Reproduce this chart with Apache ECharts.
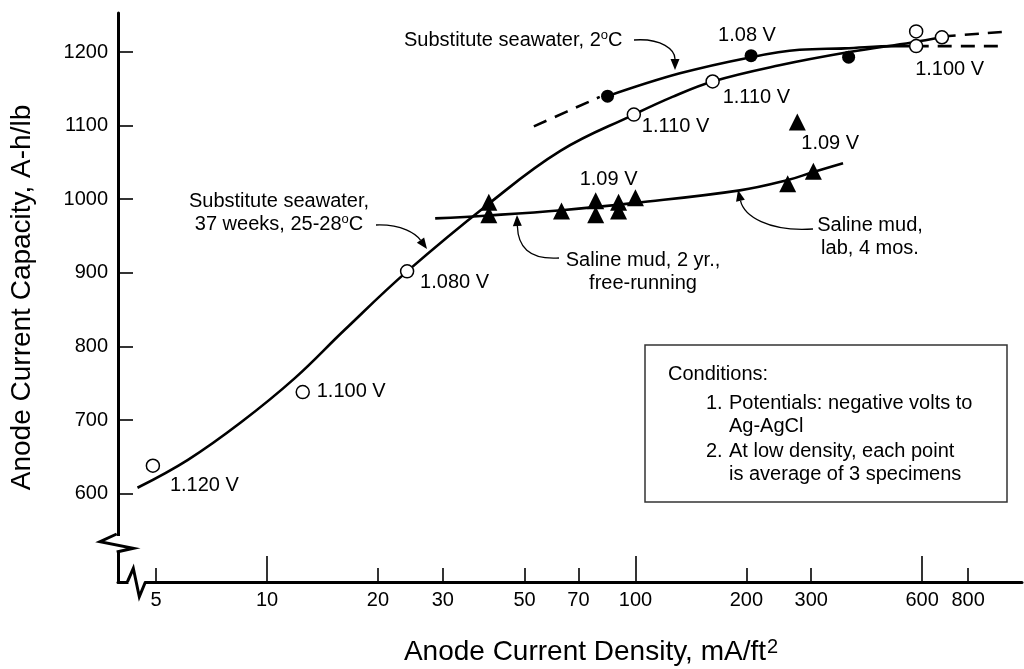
<!DOCTYPE html>
<html>
<head>
<meta charset="utf-8">
<title>Anode current capacity vs density</title>
<script src="https://cdn.jsdelivr.net/npm/echarts@6/dist/echarts.min.js"></script>
<style>
  html, body { margin: 0; padding: 0; background: #fff; }
  #chart { width: 1024px; height: 669px; }
</style>
</head>
<body>
<div id="chart"></div>
<script>
// measured points (x = mA/ft2, y = A-h/lb)
var openX = [4.9, 12.5, 24, 99, 162, 578, 578, 679];
var openY = [638, 738, 902, 1115, 1160, 1228, 1208, 1220];
var openVolts = ['1.120 V', '1.100 V', '1.080 V', '1.110 V', '1.110 V', '', '1.100 V', ''];

var filledX = [84, 206, 379];
var filledY = [1140, 1195, 1193];
var filledVolts = ['', '1.08 V', ''];

var triX = [40, 40, 63, 78, 78, 90, 90, 100, 259, 304, 275];
var triY = [996, 979, 984, 998, 979, 996, 984, 1002, 1021, 1038, 1105];
var triVolts = ['', '', '', '1.09 V', '', '', '', '', '', '', '1.09 V'];

// fitted curves
var curveAX = [4.45, 6.1, 8.5, 11.9, 16.2, 24, 40, 62.7, 99, 126, 162, 246, 381, 563, 679];
var curveAY = [608, 646, 697, 757, 822, 902, 994, 1066, 1115, 1139, 1160, 1182, 1200, 1213, 1220];
var curveAExtX = [679, 1030];
var curveAExtY = [1221, 1228];

var curveBLeadX = [53, 80];
var curveBLeadY = [1099, 1139];
var curveBX = [84, 132, 206, 279, 370, 507, 573];
var curveBY = [1140, 1171, 1193, 1203, 1205, 1208, 1208];
var curveBExtX = [573, 970];
var curveBExtY = [1208, 1208];

var mudX = [28.6, 40, 63, 100, 192, 259, 304, 366];
var mudY = [974, 978, 985, 995, 1012, 1026, 1037, 1049];

// axis ticks
var xLabelTicks = [5, 10, 20, 30, 50, 70, 100, 200, 300, 600, 800];
var xMajorTicks = [10, 100, 600];
var xMinorTicks = [5, 20, 30, 50, 70, 200, 300, 800];
var yTicks = [600, 700, 800, 900, 1000, 1100, 1200];

// where each voltage label sits relative to its point (px)
var openLabelPos = [[17, 20], [14, -1], [13, 11], [8, 12], [10, 16], null, [-1, 23], null];
var filledLabelPos = [null, [-33, -20], null];
var triLabelPos = [null, null, null, [-16, -21], null, null, null, null, null, null, [4, 22]];

var FONT = '"Liberation Sans", Arial, Helvetica, sans-serif';

function pairs(xs, ys) {
    var out = [];
    for (var i = 0; i < xs.length; i++) out.push([xs[i], ys[i]]);
    return out;
}

function withLabels(xs, ys, texts, pos) {
    return pairs(xs, ys).map(function (p, i) {
        if (!texts[i]) return p;
        return {
            value: p,
            label: {
                show: true,
                formatter: texts[i],
                position: 'inside',
                align: 'left',
                verticalAlign: 'middle',
                offset: pos[i],
                color: '#000',
                fontSize: 20,
                fontFamily: FONT
            }
        };
    });
}

function lineSeries(xs, ys, dashed) {
    return {
        type: 'line',
        data: pairs(xs, ys),
        smooth: 0.4,
        showSymbol: false,
        symbol: 'none',
        silent: true,
        lineStyle: { color: '#000', width: 2.6, type: dashed ? [14, 9] : 'solid' },
        z: 2
    };
}

// curved annotation arrow, ends in a filled head at p3
function arrow(p0, p1, p2, p3) {
    var dx = p3[0] - p2[0], dy = p3[1] - p2[1];
    var len = Math.sqrt(dx * dx + dy * dy);
    var ux = dx / len, uy = dy / len;
    var head = 11, half = 4.5;
    var bx = p3[0] - ux * head, by = p3[1] - uy * head;
    return [{
        type: 'bezierCurve',
        shape: { x1: p0[0], y1: p0[1], cpx1: p1[0], cpy1: p1[1], cpx2: p2[0], cpy2: p2[1], x2: bx, y2: by },
        style: { stroke: '#000', lineWidth: 1.3, fill: null }
    }, {
        type: 'polygon',
        shape: { points: [p3, [bx - uy * half, by + ux * half], [bx + uy * half, by - ux * half]] },
        style: { fill: '#000' }
    }];
}

var supRich = {
    t: { fontSize: 20, fontFamily: FONT, color: '#000' },
    s: { fontSize: 13, fontFamily: FONT, color: '#000', verticalAlign: 'top', padding: [0, 0, 8, 0] }
};

function note(x, y, text, align) {
    return {
        type: 'text',
        x: x, y: y,
        style: {
            text: text,
            rich: supRich,
            align: align || 'center',
            verticalAlign: 'middle',
            lineHeight: 23,
            font: '20px ' + FONT,
            fill: '#000'
        }
    };
}

var graphics = [];
// axis breaks
graphics.push({ type: 'rect', shape: { x: 108, y: 536, width: 18, height: 15 }, style: { fill: '#fff' }, z: 50 });
graphics.push({ type: 'polyline', shape: { points: [[116.7, 534], [100, 541.7], [133.3, 548.3], [116.7, 552]] },
    style: { stroke: '#000', lineWidth: 3, fill: null }, z: 51 });
graphics.push({ type: 'rect', shape: { x: 128.5, y: 577, width: 16, height: 9 }, style: { fill: '#fff' }, z: 50 });
graphics.push({ type: 'polyline', shape: { points: [[127.5, 581.7], [133.3, 568.3], [139.3, 596.7], [145.5, 581.7]] },
    style: { stroke: '#000', lineWidth: 3, fill: null }, z: 51 });

// curve annotations
graphics.push(note(404, 40, '{t|Substitute seawater, 2}{s|o}{t|C}', 'left'));
graphics = graphics.concat(arrow([634, 40], [662, 38], [675, 50], [675, 70]));
graphics.push(note(279, 213, '{t|Substitute seawater,}\n{t|37 weeks, 25-28}{s|o}{t|C}'));
graphics = graphics.concat(arrow([376, 225], [402, 224], [416, 234], [427, 249]));
graphics.push(note(643, 272, 'Saline mud, 2 yr.,\nfree-running'));
graphics = graphics.concat(arrow([559, 258], [528, 260], [518, 246], [517, 215]));
graphics.push(note(870, 237, 'Saline mud,\nlab, 4 mos.'));
graphics = graphics.concat(arrow([813, 229], [768, 232], [744, 216], [738, 190]));

// conditions box
graphics.push({ type: 'rect', shape: { x: 645, y: 345, width: 362, height: 157 },
    style: { fill: '#fff', stroke: '#333', lineWidth: 1.5 } });
graphics.push(note(668, 374, 'Conditions:', 'left'));
graphics.push(note(706, 403, '1.', 'left'));
graphics.push(note(729, 403, 'Potentials: negative volts to', 'left'));
graphics.push(note(729, 426, 'Ag-AgCl', 'left'));
graphics.push(note(706, 451, '2.', 'left'));
graphics.push(note(729, 451, 'At low density, each point', 'left'));
graphics.push(note(729, 474, 'is average of 3 specimens', 'left'));

// x-axis title with superscript
graphics.push({
    type: 'text', x: 591, y: 652,
    style: {
        text: '{n|Anode Current Density, mA/ft}{p|2}',
        rich: {
            n: { fontSize: 28, fontFamily: FONT, color: '#000' },
            p: { fontSize: 20, fontFamily: FONT, color: '#000', verticalAlign: 'top', padding: [0, 0, 10, 1] }
        },
        align: 'center', verticalAlign: 'middle', fill: '#000'
    }
});

var xBase = {
    type: 'log',
    logBase: 10,
    position: 'bottom',
    min: 3.94,
    max: 1120,
    splitLine: { show: false },
    axisPointer: { show: false }
};

var option = {
    animation: false,
    backgroundColor: '#fff',
    grid: { left: 117, top: 13, right: 2, bottom: 87 },
    xAxis: [
        Object.assign({}, xBase, {
            axisLine: { lineStyle: { color: '#000', width: 3 } },
            axisTick: { inside: true, length: 14, customValues: xMinorTicks, lineStyle: { color: '#000', width: 1.6 } },
            axisLabel: {
                customValues: xLabelTicks,
                margin: 8,
                color: '#000',
                fontSize: 20,
                fontFamily: FONT,
                formatter: function (v) { return String(Math.round(v)); }
            }
        }),
        Object.assign({}, xBase, {
            axisLine: { show: false },
            axisTick: { inside: true, length: 26, customValues: xMajorTicks, lineStyle: { color: '#000', width: 1.6 } },
            axisLabel: { show: false }
        })
    ],
    yAxis: {
        type: 'value',
        min: 480,
        max: 1253,
        splitLine: { show: false },
        axisLine: { show: true, lineStyle: { color: '#000', width: 3 } },
        axisTick: { show: true, inside: true, length: 15, customValues: yTicks, lineStyle: { color: '#000', width: 1.6 } },
        axisLabel: {
            customValues: yTicks, margin: 10, color: '#000', fontSize: 20, fontFamily: FONT,
            formatter: function (v) { return String(Math.round(v)); }
        },
        name: 'Anode Current Capacity, A-h/lb',
        nameLocation: 'middle',
        nameGap: 82,
        nameTextStyle: { fontSize: 28, color: '#000', fontFamily: FONT }
    },
    series: [
        lineSeries(curveAX, curveAY, false),
        lineSeries(curveAExtX, curveAExtY, true),
        lineSeries(curveBLeadX, curveBLeadY, true),
        lineSeries(curveBX, curveBY, false),
        lineSeries(curveBExtX, curveBExtY, true),
        lineSeries(mudX, mudY, false),
        {
            type: 'scatter',
            data: withLabels(openX, openY, openVolts, openLabelPos),
            symbol: 'circle',
            symbolSize: 13,
            itemStyle: { color: '#fff', borderColor: '#000', borderWidth: 1.5, opacity: 1 },
            z: 5
        },
        {
            type: 'scatter',
            data: withLabels(filledX, filledY, filledVolts, filledLabelPos),
            symbol: 'circle',
            symbolSize: 13,
            itemStyle: { color: '#000', opacity: 1 },
            z: 5
        },
        {
            type: 'scatter',
            data: withLabels(triX, triY, triVolts, triLabelPos),
            symbol: 'triangle',
            symbolSize: 17,
            itemStyle: { color: '#000', opacity: 1 },
            z: 5
        }
    ],
    graphic: graphics
};

var chart = echarts.init(document.getElementById('chart'));
chart.setOption(option);
</script>
</body>
</html>
